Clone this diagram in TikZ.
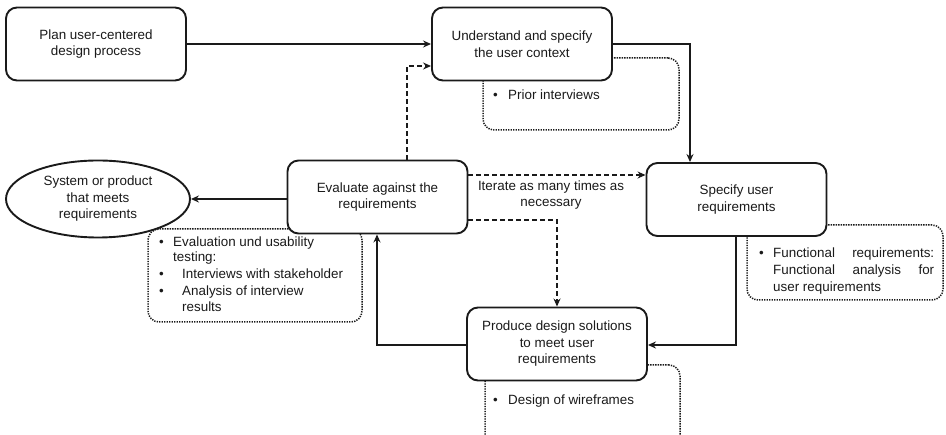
\documentclass[tikz,border=0pt]{standalone}
\usepackage{fontspec}
\setmainfont{Liberation Sans}
\usetikzlibrary{arrows.meta,shapes.geometric,calc}
\definecolor{ink}{HTML}{1A1A1A}
\begin{document}
\begin{tikzpicture}[x=1pt,y=-1pt,
  font=\fontsize{13.4}{16.5}\selectfont, text=ink,
  box/.style={draw=ink,line width=1.9pt,rounded corners=11pt,fill=white,minimum width=180pt,minimum height=73pt,align=center,inner sep=0pt},
  ell/.style={draw=ink,ellipse,line width=1.9pt,fill=white,minimum width=184pt,minimum height=77pt,align=center,inner sep=0pt},
  notebox/.style={draw=ink,line width=1.5pt,dash pattern=on 1.3pt off 1.2pt,rounded corners=11pt,inner sep=0pt},
  txt/.style={inner sep=0pt,anchor=base west},
  conn/.style={draw=ink,line width=1.8pt,-{Stealth[length=8pt,width=7pt]}},
  dconn/.style={conn,dash pattern=on 5pt off 3pt},
]
\useasboundingbox (0,0) rectangle (946,435);

% notes (behind boxes)
\node[notebox,minimum width=196pt,minimum height=72pt] (n1) at (581,94) {};
\node[notebox,minimum width=214pt,minimum height=93pt] (n2) at (255,275.5) {};
\node[notebox,minimum width=196pt,minimum height=75pt] (n3) at (845,262.5) {};
\node[notebox,minimum width=195pt,minimum height=85pt] (n4) at (582.5,407.5) {};

% boxes
\node[box] (plan) at (96,44) {Plan user-centered\\design process};
\node[box] (und) at (522,44) {Understand and specify\\the user context};
\node[box] (eval) at (377.5,197) {Evaluate against the\\requirements};
\node[box] (spec) at (736.5,199.5) {Specify user\\requirements};
\node[box] (prod) at (557,344) {Produce design solutions\\to meet user\\requirements};
\node[ell] (sys) at (98,199) {System or product\\that meets\\requirements};

% note texts
\node[txt] (t1a) at (493,99.5) {\textbullet};
\node[txt] (t1b) at (508,99.5) {Prior interviews};

\node[txt] (t2a) at (159,246.5) {\textbullet};
\node[txt] (t2b) at (173,246.5) {Evaluation und usability};
\node[txt] (t2c) at (173,262) {testing:};
\node[txt] (t2d) at (159,279) {\textbullet};
\node[txt] (t2e) at (182,279) {Interviews with stakeholder};
\node[txt] (t2f) at (159,295.5) {\textbullet};
\node[txt] (t2g) at (182,295.5) {Analysis of interview};
\node[txt] (t2h) at (182,311.5) {results};

\node[txt] (t3a) at (759,258) {\textbullet};
\node[txt] (t3b) at (773,258) {\hbox to 161pt{Functional\hfill requirements:}};
\node[txt] (t3c) at (773,274.5) {\hbox to 161pt{Functional\hfill analysis\hfill for}};
\node[txt] (t3d) at (773,291.5) {user requirements};

\node[txt] (t4a) at (493,404.5) {\textbullet};
\node[txt] (t4b) at (508,404.5) {Design of wireframes};

% iterate label
\node[align=center,inner sep=0pt] (iter) at (551,195) {Iterate as many times as\\necessary};

% connectors
\draw[conn] (plan.east) -- (und.west);
\coordinate (c0) at (690,44);
\draw[conn] (und.east) -| (spec.north -| c0);
\coordinate (c1) at (736,345);
\draw[conn] (spec.south -| c1) |- (prod.east |- c1);
\coordinate (c2) at (377,345);
\draw[conn] (prod.west |- c2) -| (eval.south -| c2);
\draw[conn] (eval.west |- sys.east) -- (sys.east);
\coordinate (c3) at (407,66);
\draw[dconn] (eval.north -| c3) |- (und.west |- c3);
\coordinate (c4) at (0,175);
\draw[dconn] (eval.east |- c4) -- (spec.west |- c4);
\coordinate (c5) at (557,220);
\draw[dconn] (eval.east |- c5) -| (prod.north -| c5);
\end{tikzpicture}
\end{document}
